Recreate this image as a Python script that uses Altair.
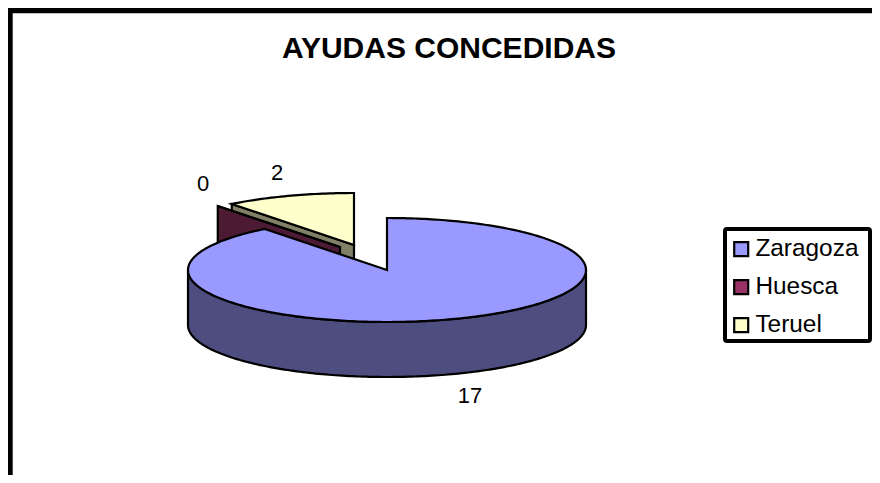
import altair as alt
import numpy as np

# ---- data ----
names = ["Zaragoza", "Huesca", "Teruel"]
values = [17, 0, 2]
colors = ["#9999FF", "#993366", "#FFFFCC"]
side_colors = ["#4D4D80", "#4D1A33", "#808066"]
title_text = "AYUDAS CONCEDIDAS"

# ---- layout of the pie (pixels inside the svg) ----
W, H = 864, 467
CX, CY = 379, 262
RX, RY = 199, 52
DEPTH = 55
OFFSETS = {"Zaragoza": (0, 0), "Huesca": (-47, -23), "Teruel": (-33, -25)}
label_xy = {"Zaragoza": (462, 388), "Huesca": (195, 176), "Teruel": (269, 165)}


def ell(theta, dx=0, dy=0):
    t = np.radians(theta)
    return [float(CX + dx + RX * np.sin(t)), float(CY + dy - RY * np.cos(t))]


def feature(coords, name):
    return {
        "type": "Feature",
        "properties": {"name": name},
        "geometry": {"type": "Polygon", "coordinates": [coords + [coords[0]]]},
    }


total = sum(values)
tops, cuts, start = {}, {}, 0.0
for n, v in zip(names, values):
    end = start + 360.0 * v / total
    dx, dy = OFFSETS[n]
    c = [float(CX + dx), float(CY + dy)]
    steps = max(int(end - start), 1)
    arc = [ell(a, dx, dy) for a in np.linspace(start, end, steps + 1)]
    tops[n] = feature([c] + arc, n)
    p = ell(start, dx, dy)
    cuts[n] = feature([p, c, [c[0], c[1] + DEPTH], [p[0], p[1] + DEPTH]], n)
    start = end

wall_top = [ell(a) for a in np.linspace(90, 270, 181)]
wall = feature(wall_top + [[x, y + DEPTH] for x, y in wall_top[::-1]], "Zaragoza")

fill_scale = alt.Scale(domain=names, range=colors)


def geo(features, fill):
    return (
        alt.Chart(alt.Data(values=features, format=alt.DataFormat(type="json")))
        .mark_geoshape(stroke="black", strokeWidth=2.2, strokeJoin="miter")
        .encode(fill=fill)
        .project(type="identity", scale=1, translate=[0, 0])
    )


legend = alt.Legend(
    title=None,
    orient="none",
    legendX=721,
    legendY=229,
    padding=0,
    symbolType="square",
    symbolSize=196,
    symbolStrokeColor="black",
    symbolStrokeWidth=2.2,
    labelFont="Liberation Sans",
    labelFontSize=24.4,
    labelColor="black",
    labelOffset=2,
    rowPadding=13,
)
named_fill = alt.Fill("properties.name:N", scale=fill_scale, legend=legend, sort=names)

box = (
    alt.Chart(alt.Data(values=[{"a": 1}]))
    .mark_rect(fill="white", stroke="black", strokeWidth=4, cornerRadius=2)
    .encode(x=alt.value(717), x2=alt.value(862), y=alt.value(221), y2=alt.value(333))
)

layers = [
    box,
    geo([cuts["Teruel"]], alt.value(side_colors[2])),
    geo([tops["Teruel"]], named_fill),
    geo([cuts["Huesca"]], alt.value(side_colors[1])),
    geo([tops["Huesca"]], named_fill),
    geo([wall], alt.value(side_colors[0])),
    geo([tops["Zaragoza"]], named_fill),
]

for n, v in zip(names, values):
    lx, ly = label_xy[n]
    layers.append(
        alt.Chart(alt.Data(values=[{"t": str(v)}]))
        .mark_text(font="Liberation Sans", fontSize=22, color="black", baseline="middle", align="center")
        .encode(x=alt.value(lx), y=alt.value(ly), text="t:N")
    )

layers.append(
    alt.Chart(alt.Data(values=[{"t": title_text}]))
    .mark_text(font="Liberation Sans", fontSize=30, fontWeight="bold", color="black", baseline="middle", align="center")
    .encode(x=alt.value(441), y=alt.value(41), text="t:N")
)
layers.append(
    alt.Chart(alt.Data(values=[{"a": 1}]))
    .mark_rect(color="black")
    .encode(x=alt.value(0), x2=alt.value(4.7), y=alt.value(0), y2=alt.value(H))
)
layers.append(
    alt.Chart(alt.Data(values=[{"a": 1}]))
    .mark_rect(color="black")
    .encode(x=alt.value(0), x2=alt.value(W), y=alt.value(0), y2=alt.value(5.3))
)

chart = (
    alt.layer(*layers)
    .properties(width=W, height=H, padding=0, autosize=alt.AutoSizeParams(type="none"))
    .configure_view(stroke=None)
)
chart.save("out.html", embed_options={"renderer": "svg", "actions": False})
